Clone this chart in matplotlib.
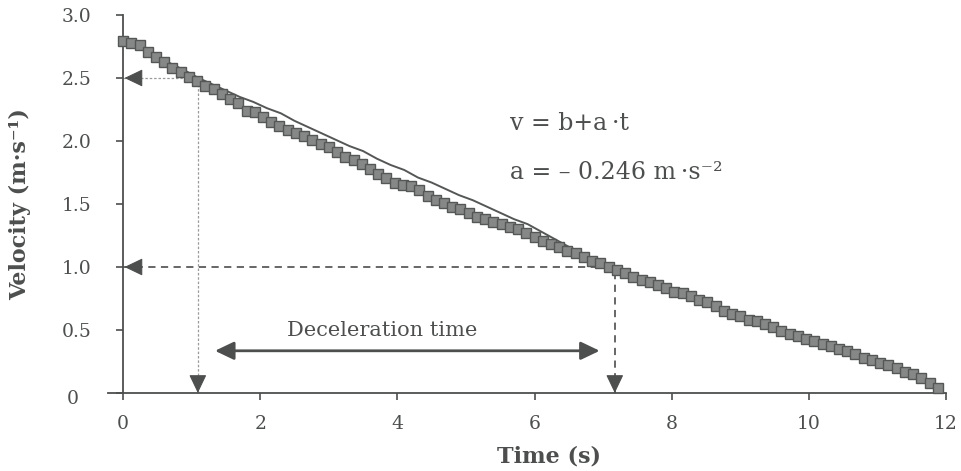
import numpy as np
import matplotlib
matplotlib.use("Agg")
import matplotlib.pyplot as plt
from matplotlib.transforms import ScaledTranslation

# ---------------- data ----------------
# square markers (measured velocity samples)
t_markers = np.round(np.arange(100) * 0.12, 2)
v_markers = [2.79, 2.78, 2.76, 2.71, 2.67, 2.63, 2.58, 2.55, 2.51, 2.48,
             2.44, 2.41, 2.37, 2.33, 2.30, 2.24, 2.23, 2.19, 2.15, 2.12,
             2.09, 2.06, 2.04, 2.01, 1.98, 1.95, 1.91, 1.87, 1.85, 1.82,
             1.78, 1.74, 1.71, 1.67, 1.65, 1.64, 1.61, 1.56, 1.53, 1.51,
             1.48, 1.46, 1.43, 1.40, 1.38, 1.36, 1.34, 1.32, 1.30, 1.27,
             1.24, 1.21, 1.18, 1.16, 1.13, 1.11, 1.08, 1.05, 1.03, 1.00,
             0.98, 0.95, 0.92, 0.90, 0.88, 0.86, 0.83, 0.80, 0.79, 0.77,
             0.74, 0.72, 0.69, 0.65, 0.63, 0.61, 0.58, 0.57, 0.55, 0.52,
             0.49, 0.47, 0.45, 0.43, 0.41, 0.39, 0.37, 0.35, 0.33, 0.31,
             0.28, 0.26, 0.24, 0.22, 0.20, 0.17, 0.15, 0.12, 0.08, 0.04]

# solid curve
t_line = [0, 0.3, 0.6, 0.9, 1.1, 1.3, 1.5, 1.7, 1.9, 2.1, 2.3, 2.5, 2.7, 2.9,
          3.1, 3.3, 3.5, 3.7, 3.9, 4.1, 4.3, 4.5, 4.7, 4.9, 5.1, 5.3, 5.5,
          5.7, 5.9, 6.1, 6.3, 6.5, 6.7, 6.9, 7.1, 7.5, 8.0, 8.5, 9.0, 9.5,
          10.0, 10.5, 11.0, 11.5, 11.9]
v_line = [2.79, 2.72, 2.64, 2.56, 2.50, 2.45, 2.40, 2.35, 2.31, 2.26, 2.22,
          2.16, 2.11, 2.06, 2.01, 1.96, 1.92, 1.86, 1.81, 1.77, 1.71, 1.67,
          1.62, 1.57, 1.53, 1.48, 1.43, 1.38, 1.34, 1.28, 1.22, 1.16, 1.11,
          1.05, 1.00, 0.92, 0.82, 0.73, 0.62, 0.52, 0.43, 0.34, 0.25, 0.16,
          0.05]

x_ticks = [0, 2, 4, 6, 8, 10, 12]
y_ticks = [0, 0.5, 1.0, 1.5, 2.0, 2.5, 3.0]
y_tick_labels = ["0", "0.5", "1.0", "1.5", "2.0", "2.5", "3.0"]

# annotation values
t_start, v_start = 1.09, 2.5
t_end, v_end = 7.17, 1.0
decel_y = 0.335
decel_x0, decel_x1 = 1.34, 6.95

INK = "#4d4f4f"
plt.rcParams["font.family"] = ["DejaVu Serif"]

fig = plt.figure(figsize=(9.61, 4.71), dpi=100)
W, H = 961, 471
ax = fig.add_axes([108 / W, 1 - 393 / H, 838 / W, 378 / H])
ax.set_xlim(-0.22, 12)
ax.set_ylim(0, 3.0)

ax.spines["top"].set_visible(False)
ax.spines["right"].set_visible(False)
ax.spines["left"].set_position(("data", 0))
for s in ("left", "bottom"):
    ax.spines[s].set_color(INK)
    ax.spines[s].set_linewidth(1.3)

ax.set_xticks(x_ticks)
ax.set_xticklabels([str(x) for x in x_ticks])
ax.set_yticks(y_ticks)
ax.set_yticklabels(y_tick_labels)
ax.tick_params(axis="x", direction="out", length=5, width=1.2, color=INK,
               labelsize=13.5, labelcolor=INK, pad=11)
ax.tick_params(axis="y", direction="out", length=5, width=1.2, color=INK,
               labelsize=13.5, labelcolor=INK, pad=18)
# move "0" y label a bit left like the reference
lbl0 = ax.get_yticklabels()[0]
lbl0.set_transform(lbl0.get_transform() + ScaledTranslation(-12 / 100, -4 / 100, fig.dpi_scale_trans))

# solid curve and markers
ax.plot(t_line, v_line, color="#555757", lw=1.4, zorder=3, clip_on=False)
ax.plot(t_markers, v_markers, linestyle="none", marker="s", markersize=7.8,
        markerfacecolor="#868888", markeredgecolor="#555757",
        markeredgewidth=1.0, zorder=4, clip_on=False)

# guide lines
ax.plot([0, t_start], [v_start, v_start], ls=(0, (2, 1.5)), color="#9a9a9a", lw=0.9, zorder=2)
ax.plot([t_start, t_start], [0, v_start], ls=(0, (2, 1.5)), color="#9a9a9a", lw=0.9, zorder=2)
ax.plot([0, t_end], [v_end, v_end], ls=(0, (4, 3)), color="#5a5a5a", lw=1.3, zorder=2)
ax.plot([t_end, t_end], [0, v_end], ls=(0, (4, 3)), color="#5a5a5a", lw=1.3, zorder=2)

head = "-|>,head_length=1.15,head_width=0.55"
aprops = dict(arrowstyle=head, color=INK, lw=0.8, shrinkA=0, shrinkB=0)
# left arrowheads at the axis
ax.annotate("", xy=(0.02, v_start), xytext=(0.25, v_start), arrowprops=aprops, zorder=5)
ax.annotate("", xy=(0.02, v_end), xytext=(0.25, v_end), arrowprops=aprops, zorder=5)
# down arrowheads at time axis
ax.annotate("", xy=(t_start, 0.0), xytext=(t_start, 0.13), arrowprops=aprops, zorder=5)
ax.annotate("", xy=(t_end, 0.0), xytext=(t_end, 0.13), arrowprops=aprops, zorder=5)

# deceleration double arrow
ax.annotate("", xy=(decel_x0, decel_y), xytext=(decel_x1, decel_y),
            arrowprops=dict(arrowstyle="<|-|>,head_length=1.15,head_width=0.55",
                            color=INK, lw=2.0, shrinkA=0, shrinkB=0))
ax.text(3.78, 0.50, "Deceleration time", fontsize=15, color=INK,
        ha="center", va="center")

# equations
ax.text(5.64, 2.14, "v = b+a\u2009\u00b7t", fontsize=17, color=INK, ha="left", va="center")
ax.text(5.64, 1.75, "a = \u2013 0.246 m\u2009\u00b7s\u207b\u00b2", fontsize=17, color=INK,
        ha="left", va="center")

# axis labels
fig.text(549 / W, 1 - 457 / H, "Time (s)", fontsize=16, fontweight="bold",
         color=INK, ha="center", va="center")
fig.text(20 / W, 1 - 204 / H, "Velocity (m\u00b7s\u207b\u00b9)", fontsize=16,
         fontweight="bold", color=INK, ha="center", va="center", rotation=90)

fig.savefig("out.png", dpi=100)
